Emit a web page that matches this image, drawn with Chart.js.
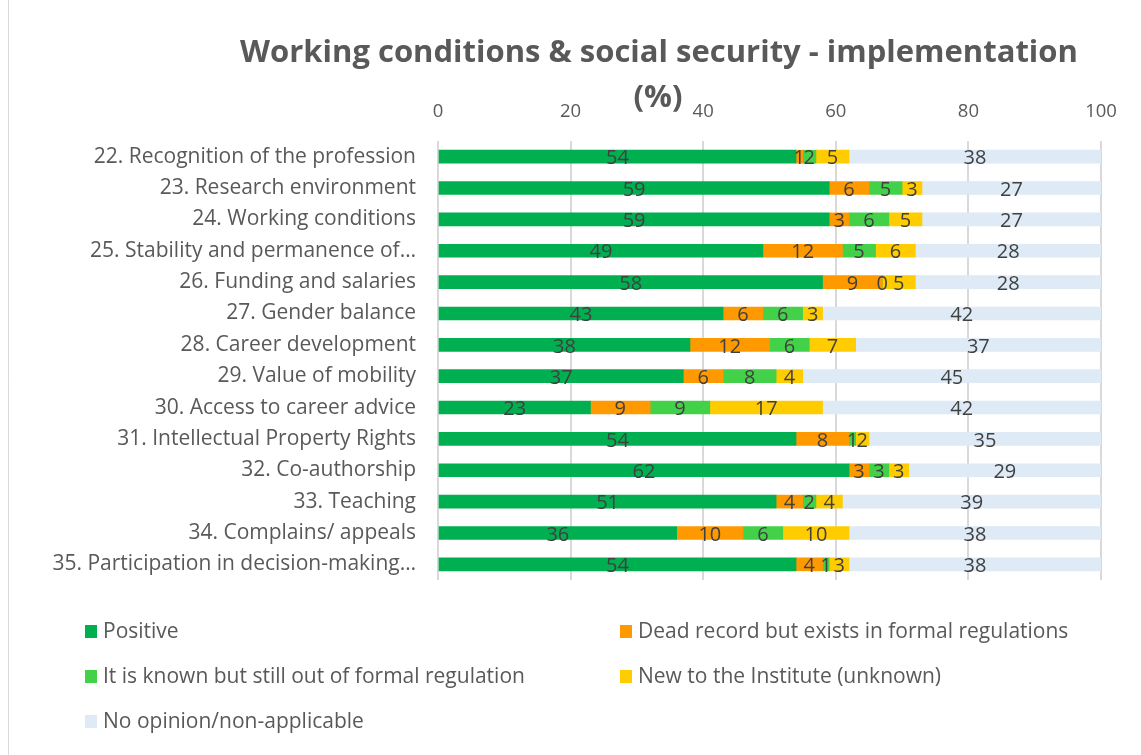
<!DOCTYPE html>
<html>
<head>
<meta charset="utf-8">
<script src="https://cdn.jsdelivr.net/npm/chart.js@4.4.1/dist/chart.umd.min.js"></script>
<style>
  html, body { margin: 0; padding: 0; background: #ffffff; }
  #wrap { position: relative; width: 1141px; height: 755px; }
  canvas { display: block; }
</style>
</head>
<body>
<div id="wrap"><canvas id="c" width="1141" height="755"></canvas></div>
<script>
const categories = [
  "22. Recognition of the profession",
  "23. Research environment",
  "24. Working conditions",
  "25. Stability and permanence of…",
  "26. Funding and salaries",
  "27. Gender balance",
  "28. Career development",
  "29. Value of mobility",
  "30. Access to career advice",
  "31. Intellectual Property Rights",
  "32. Co-authorship",
  "33. Teaching",
  "34. Complains/ appeals",
  "35. Participation in decision-making…"
];
const seriesNames = [
  "Positive",
  "Dead record but exists in formal regulations",
  "It is known but still out of formal regulation",
  "New to the Institute (unknown)",
  "No opinion/non-applicable"
];
const positive   = [54, 59, 59, 49, 58, 43, 38, 37, 23, 54, 62, 51, 36, 54];
const deadRecord = [ 1,  6,  3, 12,  9,  6, 12,  6,  9,  8,  3,  4, 10,  4];
const knownOut   = [ 2,  5,  6,  5,  0,  6,  6,  8,  9,  1,  3,  2,  6,  1];
const newUnknown = [ 5,  3,  5,  6,  5,  3,  7,  4, 17,  2,  3,  4, 10,  3];
const noOpinion  = [38, 27, 27, 28, 28, 42, 37, 45, 42, 35, 29, 39, 38, 38];
const xTicks = [0, 20, 40, 60, 80, 100];
const titleLines = ["Working conditions & social security - implementation", "(%)"];

const colors = ["#00B050", "#FF9900", "#44D14A", "#FFCC00", "#DEEAF6"];
const seriesData = [positive, deadRecord, knownOut, newUnknown, noOpinion];

const FONT = "'Open Sans', 'Noto Sans', 'DejaVu Sans', sans-serif";
const TEXT = "#595959";

const valueLabels = {
  id: 'valueLabels',
  afterDatasetsDraw(chart) {
    const ctx = chart.ctx;
    ctx.save();
    ctx.font = "20px " + FONT;
    ctx.fillStyle = "#404040";
    ctx.textAlign = "center";
    ctx.textBaseline = "middle";
    chart.data.datasets.forEach((ds, di) => {
      const meta = chart.getDatasetMeta(di);
      meta.data.forEach((bar, i) => {
        const v = ds.data[i];
        const p = bar.getProps(['x', 'y', 'base'], true);
        ctx.fillText(String(v), (p.x + p.base) / 2, p.y + 2);
      });
    });
    ctx.restore();
  }
};

const titleAndLegend = {
  id: 'titleAndLegend',
  afterDraw(chart) {
    const ctx = chart.ctx;
    ctx.save();
    ctx.strokeStyle = "#d9d9d9";
    ctx.lineWidth = 1;
    ctx.beginPath();
    ctx.moveTo(8.5, 0); ctx.lineTo(8.5, 755);
    ctx.stroke();
    ctx.fillStyle = TEXT;
    ctx.font = "bold 31px " + FONT;
    ctx.textAlign = "center";
    ctx.textBaseline = "middle";
    ctx.fillText(titleLines[0], 659, 53);
    ctx.fillText(titleLines[1], 658, 98);
    const pos = [[85, 631], [620, 631], [85, 676], [620, 676], [85, 721]];
    ctx.font = "21px " + FONT;
    ctx.textAlign = "left";
    chart.data.datasets.forEach((ds, i) => {
      const [x, y] = pos[i];
      ctx.fillStyle = ds.backgroundColor;
      ctx.fillRect(x, y - 6, 12, 13);
      ctx.fillStyle = TEXT;
      ctx.fillText(ds.label, x + 18, y + 1);
    });
    ctx.restore();
  }
};

new Chart(document.getElementById('c'), {
  type: 'bar',
  data: {
    labels: categories,
    datasets: seriesNames.map((name, i) => ({
      label: name,
      data: seriesData[i],
      backgroundColor: colors[i],
      borderWidth: 0,
      barThickness: 13
    }))
  },
  options: {
    indexAxis: 'y',
    responsive: false,
    animation: false,
    layout: { padding: { top: 100, bottom: 175, left: 0, right: 40 } },
    plugins: {
      legend: { display: false },
      title: { display: false },
      tooltip: { enabled: false }
    },
    scales: {
      x: {
        position: 'top',
        stacked: true,
        min: 0,
        max: 100,
        afterBuildTicks(scale) { scale.ticks = xTicks.map(v => ({ value: v })); },
        afterFit(scale) { scale.height = 41; },
        grid: { color: "#d9d9d9", lineWidth: 2, drawTicks: false },
        border: { display: false },
        ticks: { padding: 18, color: TEXT, font: { size: 18.5, family: FONT } }
      },
      y: {
        stacked: true,
        afterFit(scale) { scale.width = 438; },
        grid: { display: false, drawTicks: false },
        border: { display: false },
        ticks: { padding: 22, color: TEXT, font: { size: 21, family: FONT }, autoSkip: false }
      }
    }
  },
  plugins: [valueLabels, titleAndLegend]
});
</script>
</body>
</html>
